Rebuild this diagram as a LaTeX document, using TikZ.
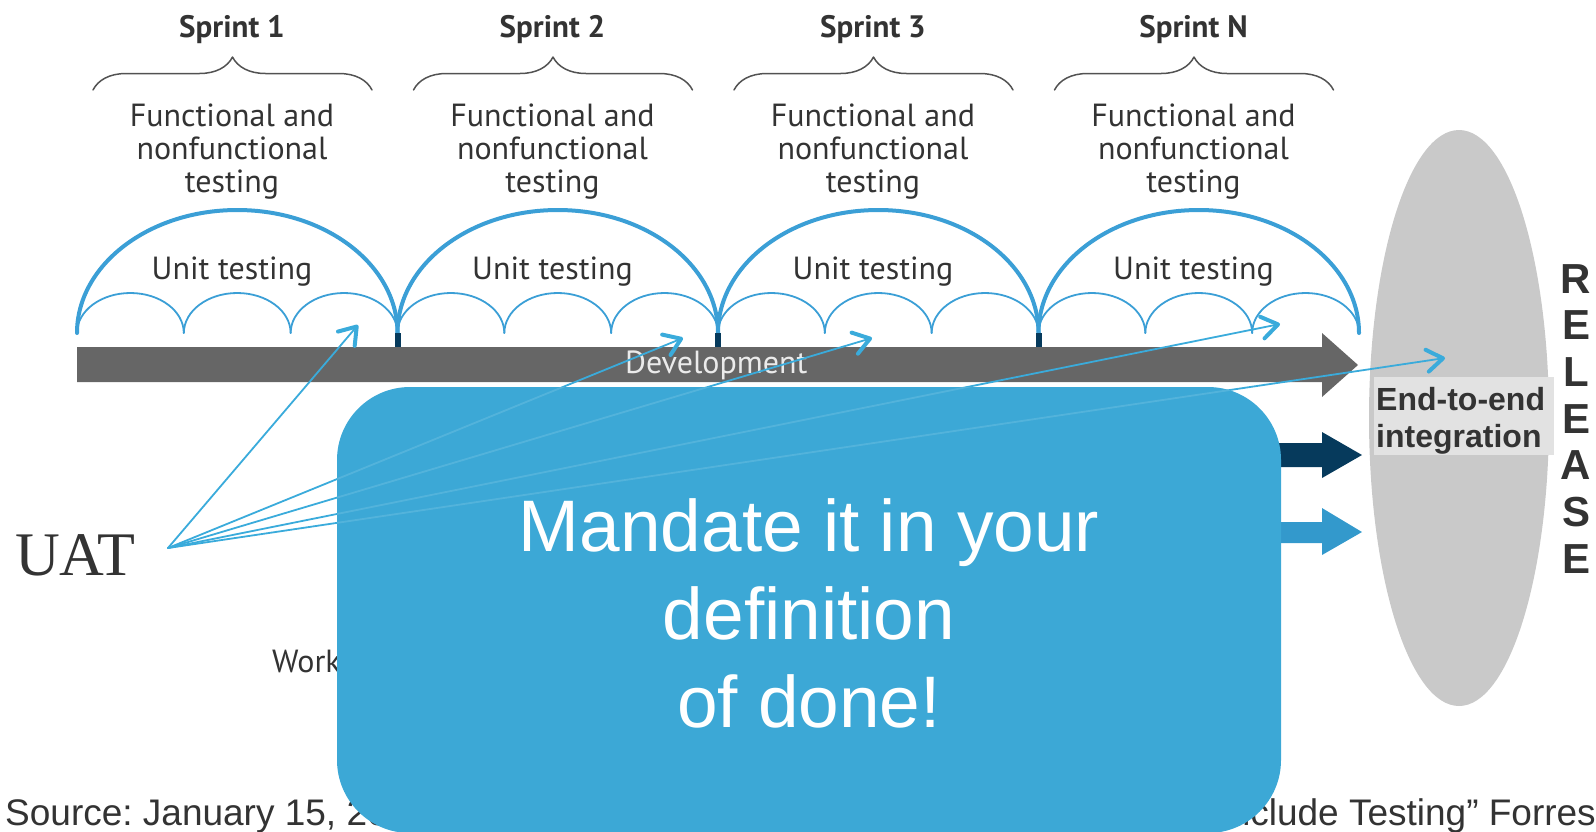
\documentclass[tikz,border=0pt]{standalone}
\usepackage{fontspec}
\setmainfont{PT Sans}
\newfontfamily\arialfont{Liberation Sans}
\newfontfamily\timesfont{Liberation Serif}
\usetikzlibrary{arrows.meta,decorations.pathreplacing}
\definecolor{arcblue}{HTML}{3B9FD6}
\definecolor{lineblue}{HTML}{3AABDB}
\definecolor{boxblue}{HTML}{3CA8D6}
\definecolor{navyarrow}{HTML}{063A5C}
\definecolor{lightarrow}{HTML}{3399CC}
\definecolor{devgray}{HTML}{666666}
\definecolor{relgray}{HTML}{C9C9C9}
\definecolor{e2egray}{HTML}{E2E2E2}
\definecolor{darktext}{HTML}{333333}
\newcommand{\fsz}[2]{\fontsize{#1}{#2}\selectfont}
\frenchspacing
\begin{document}
\begin{tikzpicture}[x=1pt, y=-1pt, line join=round, line cap=round,
  sprintlbl/.style={font=\fsz{31}{36}\bfseries, text=darktext, inner sep=0, anchor=base},
  testlbl/.style={font=\fsz{32}{33}, text=darktext, inner sep=0, anchor=north, align=center},
  unitlbl/.style={font=\fsz{32}{33}, text=darktext, inner sep=0, anchor=base},
  bracestyle/.style={draw=darktext!85, line width=1.5, decorate, decoration={brace, amplitude=33pt}},
  bigarc/.style={draw=arcblue, line width=4},
  smallarc/.style={draw=arcblue, line width=1.8},
  uatline/.style={draw=lineblue, line width=1.8, -{Straight Barb[length=16pt, width=22pt, line width=4pt, round]}},
  srclbl/.style={font=\arialfont\fsz{37}{40}, text=darktext, inner sep=0}]
\def\sw{320.5}
\useasboundingbox (0,0) rectangle (1596,831);
\clip (0,0) rectangle (1596,831);
\foreach \i/\lbl in {1/Sprint 1,2/Sprint 2,3/Sprint 3,4/Sprint N}{
  \pgfmathsetmacro\xa{77+(\i-1)*\sw}
  \pgfmathsetmacro\xc{\xa+155}
  \node[sprintlbl] (sprint\i) at (\xc,37) {\lbl};
  \draw[bracestyle] (\xa+16,90) -- (\xa+295,90);
  \node[testlbl] (func\i) at (\xc,104) {Functional and\\nonfunctional\\testing};
  \node[unitlbl] (unit\i) at (\xc,279) {Unit testing};
  \draw[bigarc] (\xa,333) arc[start angle=180, end angle=0, x radius=160.25pt, y radius=123pt];
  \foreach \j in {0,1,2}
    \draw[smallarc] (\xa+\j*\sw/3,333) arc[start angle=180, end angle=0, x radius=53.4pt, y radius=40pt];
}
\foreach \i in {1,2,3}
  \fill[navyarrow] (77+\i*\sw-3,333) rectangle ++(6,14);
\fill[devgray] (77,347) -- (1322,347) -- (1322,333) -- (1358,365) -- (1322,397) -- (1322,382) -- (77,382) -- cycle;
\node[font=\fsz{32}{33}, text=white!92!black, inner sep=0, anchor=base west] (dev) at (625,373) {Development};
\fill[navyarrow] (700,443) -- (1322,443) -- (1322,432) -- (1362,455) -- (1322,478) -- (1322,467) -- (700,467) -- cycle;
\fill[lightarrow] (700,522) -- (1322,522) -- (1322,508) -- (1362,532) -- (1322,555) -- (1322,543) -- (700,543) -- cycle;
\fill[relgray] (1459,418) ellipse [x radius=90pt, y radius=288pt];
\node[fill=e2egray, minimum width=180, minimum height=78, anchor=north west, inner sep=0] (e2ebox) at (1374,377) {};
\node[font=\arialfont\bfseries\fsz{32}{37}, text=darktext, align=left, anchor=north west, inner sep=0] (e2e) at (1376,387) {End-to-end\\integration};
\node[font=\arialfont\bfseries\fsz{42}{46.7}, text=darktext, align=center, anchor=north, inner sep=0] (release) at (1576,264) {R\\E\\L\\E\\A\\S\\E};
\node[font=\fsz{32}{33}, text=darktext, inner sep=0, anchor=base west] (work) at (272,672) {Work};
\node[srclbl, anchor=base west] (src1) at (5,825) {Source: January 15, 20};
\node[srclbl, anchor=base east] (src2) at (1596,825) {nclude Testing” Forres};
\node[font=\timesfont\fsz{62}{62}, text=darktext, inner sep=0, anchor=base west] (uat) at (15,575) {UAT};
\coordinate (uatpt) at (168,548);
\coordinate (t1) at (358,325);
\coordinate (t2) at (683,338);
\coordinate (t3) at (872,338);
\coordinate (t4) at (1280,324);
\coordinate (t5) at (1445,358);
\foreach \k in {1,...,5}
  \draw[uatline] (uatpt) -- (t\k);
\fill[boxblue, rounded corners=73] (337,387) rectangle (1281,833);
\begin{scope}
\clip[rounded corners=73] (337,387) rectangle (1281,833);
\foreach \k in {2,...,5}
  \draw[draw=lineblue!60!white, line width=1.8, opacity=0.3] (uatpt) -- (t\k);
\end{scope}
\node[font=\arialfont\fsz{73}{88}, text=white, align=center, anchor=north, inner sep=0] (dod) at (809,498) {Mandate it in your\\definition\\of done!};
\end{tikzpicture}
\end{document}
